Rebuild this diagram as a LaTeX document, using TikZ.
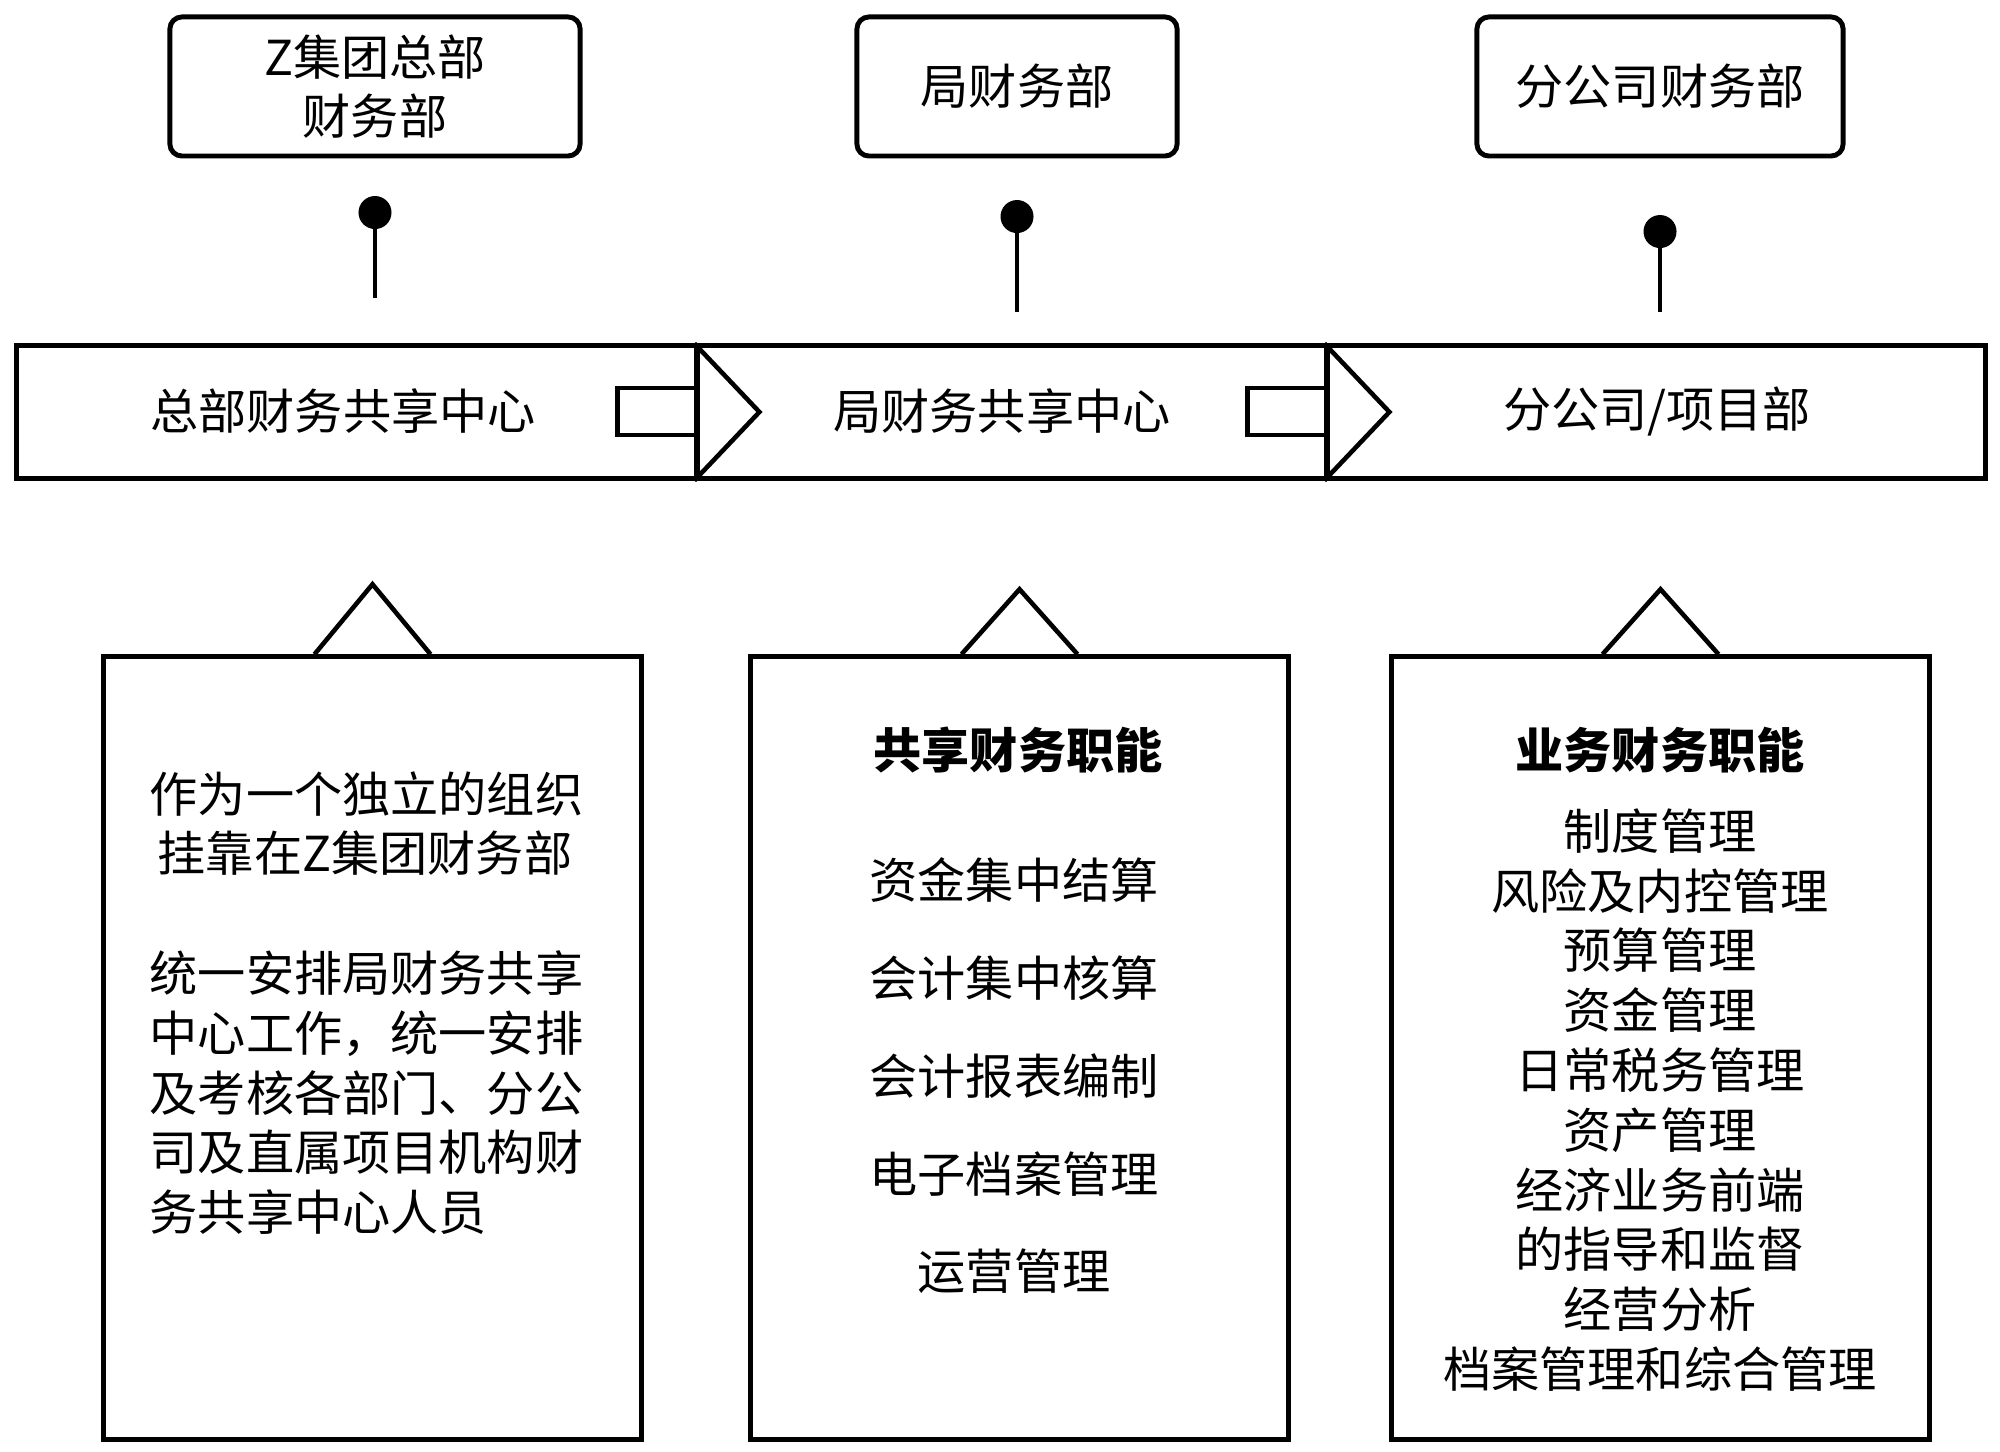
\documentclass[tikz,border=0pt]{standalone}
\usepackage{fontspec}
\setmainfont{Noto Sans CJK SC}

\begin{document}
\begin{tikzpicture}[x=0.01cm,y=-0.01cm,
  font=\fontsize{13.7}{17}\selectfont,
  topbox/.style={draw,line width=1.4pt,rounded corners=0.12cm,minimum height=1.39cm,align=center,inner sep=0},
  seg/.style={draw,line width=1.4pt,minimum height=1.32cm,inner sep=0},
  panel/.style={draw,line width=1.4pt,minimum width=5.37cm,minimum height=7.82cm,inner sep=0},
  headline/.style={inner sep=0,font=\fontsize{13.7}{17}\selectfont\bfseries},
  stem/.style={line width=1.3pt},
  hanger/.style={line width=1.3pt},
  blockarrow/.style={line width=1.3pt}]
\useasboundingbox (0,0) rectangle (2000,1452);

% top offices
\node[topbox,minimum width=4.1cm] (B1) at (375,86.5) {Z集团总部\\财务部};
\node[topbox,minimum width=3.2cm] (B2) at (1017,86.5) {局财务部};
\node[topbox,minimum width=3.66cm] (B3) at (1660,86.5) {分公司财务部};

\draw[stem] ([yshift=-0.54cm]B1.south) -- ([yshift=-1.39cm]B1.south);
\fill ([yshift=-0.54cm]B1.south) circle[radius=0.165cm];
\draw[stem] ([yshift=-0.58cm]B2.south) -- ([yshift=-1.53cm]B2.south);
\fill ([yshift=-0.58cm]B2.south) circle[radius=0.165cm];
\draw[stem] ([yshift=-0.73cm]B3.south) -- ([yshift=-1.53cm]B3.south);
\fill ([yshift=-0.73cm]B3.south) circle[radius=0.165cm];

% the bar
\node[seg,minimum width=6.8cm] (S1) at (357,412) {};
\node[seg,minimum width=6.3cm] (S2) at (1012,412) {};
\node[seg,minimum width=6.58cm] (S3) at (1656,412) {};
\node (N1) at (343,411) {总部财务共享中心};
\node (N2) at (1002,411) {局财务共享中心};
\node (N3) at (1657,411) {分公司/项目部};

\draw[blockarrow] ([yshift=0.24cm]S1.east) -- ++(-82,0) -- ++(0,47) -- ++(82,0);
\draw[blockarrow] (S2.north west) -- ([xshift=0.65cm]S2.west) -- (S2.south west);
\draw[blockarrow] ([yshift=0.24cm]S2.east) -- ++(-82,0) -- ++(0,47) -- ++(82,0);
\draw[blockarrow] (S3.north west) -- ([xshift=0.65cm]S3.west) -- (S3.south west);

% hanging panels
\node[panel] (P1) at (372.5,1048) {};
\node[panel] (P2) at (1019.5,1048) {};
\node[panel] (P3) at (1660.5,1048) {};

\draw[hanger] ([xshift=-0.58cm]P1.north) -- ([yshift=0.70cm]P1.north) -- ([xshift=0.58cm]P1.north);
\draw[hanger] ([xshift=-0.58cm]P2.north) -- ([yshift=0.65cm]P2.north) -- ([xshift=0.58cm]P2.north);
\draw[hanger] ([xshift=-0.58cm]P3.north) -- ([yshift=0.65cm]P3.north) -- ([xshift=0.58cm]P3.north);

\node[anchor=west,align=left,inner sep=0] (T1) at (149,1003) {作为一个独立的组织\\\hspace{0.08cm}挂靠在Z集团财务部\\[17pt]统一安排局财务共享\\中心工作，统一安排\\及考核各部门、分公\\司及直属项目机构财\\务共享中心人员};

\node[headline] (H2) at (1018,750) {共享财务职能};
\node[align=center,inner sep=0,font=\fontsize{13.7}{27.8}\selectfont] (L2) at (1014,1076) {资金集中结算\\会计集中核算\\会计报表编制\\电子档案管理\\运营管理};

\node[headline] (H3) at (1660,750) {业务财务职能};
\node[align=center,inner sep=0] (L3) at (1660,1100) {制度管理\\风险及内控管理\\预算管理\\资金管理\\日常税务管理\\资产管理\\经济业务前端\\的指导和监督\\经营分析\\档案管理和综合管理};
\end{tikzpicture}
\end{document}
